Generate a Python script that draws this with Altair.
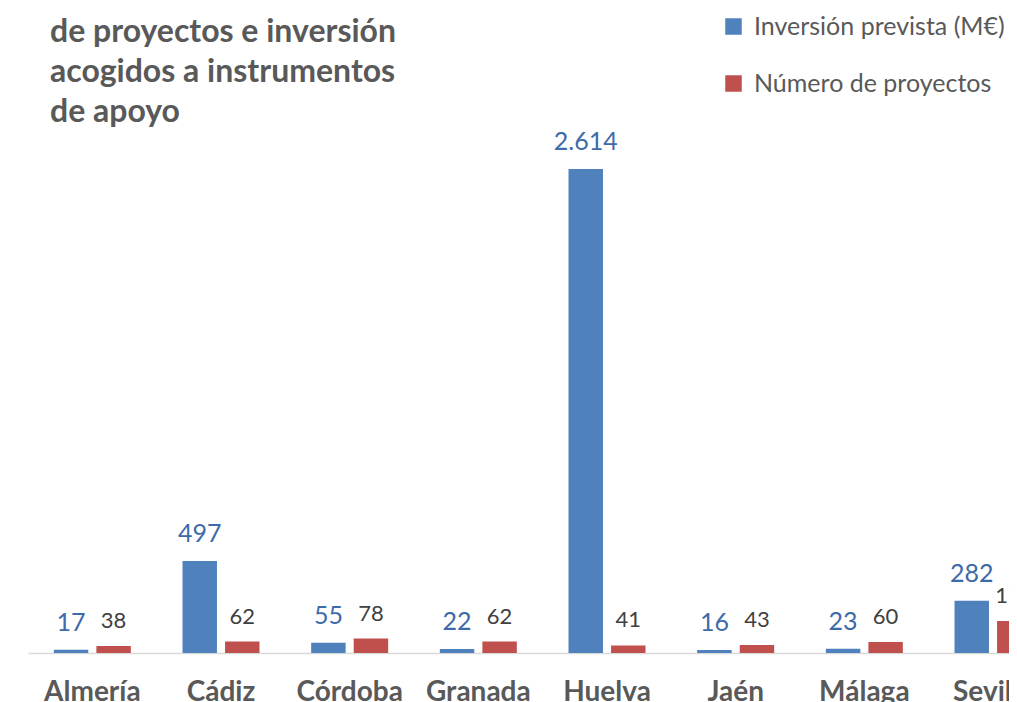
import altair as alt
import pandas as pd

provincias = ["Almería", "Cádiz", "Córdoba", "Granada", "Huelva", "Jaén", "Málaga", "Sevilla"]
inversion = [17, 497, 55, 22, 2614, 16, 23, 282]
proyectos = [38, 62, 78, 62, 41, 43, 60, 173]
series = ["Inversión prevista (M€)", "Número de proyectos"]
colores = ["#4F81BD", "#C0504D"]
titulo = ["Distribución territorial", "de proyectos e inversión",
          "acogidos a instrumentos", "de apoyo"]

rows = []
for p, a, b in zip(provincias, inversion, proyectos):
    rows.append({"provincia": p, "serie": series[0], "valor": a})
    rows.append({"provincia": p, "serie": series[1], "valor": b})
df = pd.DataFrame(rows)

step = 128.67
x_start = 20
xscale = alt.Scale(domain=provincias, range=[x_start, x_start + 8 * step],
                   paddingInner=0.4016, paddingOuter=0.2008)
yscale = alt.Scale(domain=[0, 3483], nice=False, zero=True)
offscale = alt.Scale(domain=series, paddingInner=0.19, paddingOuter=0)

base = alt.Chart(df).encode(
    x=alt.X("provincia:N", sort=provincias, scale=xscale,
            axis=alt.Axis(title=None, ticks=False, domainColor="#D9D9D9", domainWidth=1.5,
                          labelFont="Lato", labelFontWeight="bold", labelFontSize=28,
                          labelColor="#595959", labelPadding=25, labelAngle=0)),
    xOffset=alt.XOffset("serie:N", scale=offscale, sort=series),
    y=alt.Y("valor:Q", scale=yscale, axis=None),
)

bars = base.mark_bar().encode(
    color=alt.Color("serie:N", scale=alt.Scale(domain=series, range=colores),
                    legend=alt.Legend(orient="none", legendX=713, legendY=6, title=None,
                                      symbolType="square", symbolSize=272,
                                      symbolStrokeWidth=0, labelFont="Lato",
                                      labelFontSize=25, labelColor="#595959",
                                      labelOffset=8, rowPadding=31, padding=0,
                                      labelLimit=0))
)

etiqueta = "replace(format(datum.valor, ','), ',', '.')"

txt_inv = base.transform_filter(alt.datum.serie == series[0]).transform_calculate(
    lab=etiqueta
).mark_text(font="Lato", fontSize=25, color="#3D6AA8", baseline="alphabetic",
            align="center", dy=-19).encode(text="lab:N")

txt_proy = base.transform_filter(alt.datum.serie == series[1]).transform_calculate(
    lab=etiqueta
).mark_text(font="Lato", fontSize=22, color="#404040", baseline="alphabetic",
            align="center", dy=-18).encode(text="lab:N")

title = alt.Chart(pd.DataFrame({"t": [0]})).mark_text(
    text=titulo, font="Lato", fontWeight="bold", fontSize=32, color="#595959",
    align="left", baseline="alphabetic", lineHeight=40
).encode(x=alt.value(42), y=alt.value(-6))

chart = alt.layer(bars, txt_inv, txt_proy, title).properties(
    width=1001, height=645,
    padding={"left": 0, "top": 0, "right": 0, "bottom": 49},
    autosize=alt.AutoSizeParams(type="none"),
).configure_view(stroke=None)

chart.save("out.html", embed_options={"renderer": "svg", "actions": False})
